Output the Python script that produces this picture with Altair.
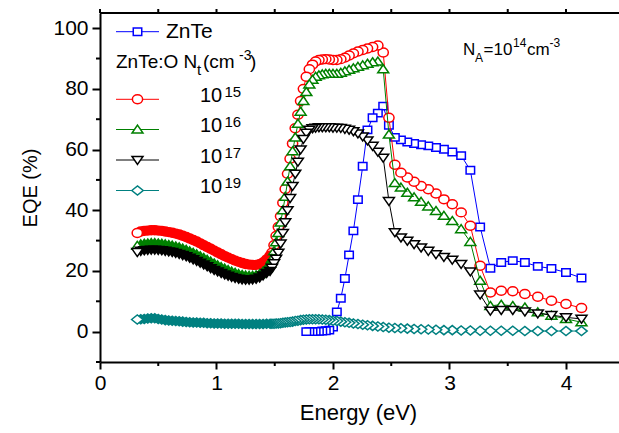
import altair as alt
import pandas as pd

# ---------------- data ----------------
# dense low-energy part (eV)
E_band = [0.32, 0.35, 0.38, 0.41, 0.44, 0.47, 0.50, 0.53, 0.56, 0.59, 0.62, 0.65, 0.68,
          0.71, 0.74, 0.77, 0.80, 0.83, 0.86, 0.89, 0.92, 0.95, 0.98, 1.01, 1.04, 1.07,
          1.10, 1.13, 1.16, 1.19, 1.22, 1.25, 1.28, 1.31, 1.34, 1.37, 1.40, 1.43, 1.46]
# 10 nm wavelength steps (840 nm ... 300 nm) in eV
E_grid = [1.476, 1.494, 1.512, 1.531, 1.550, 1.570, 1.590, 1.610, 1.632, 1.653, 1.676,
          1.699, 1.722, 1.746, 1.771, 1.797, 1.824, 1.851, 1.879, 1.908, 1.938, 1.968,
          2.000, 2.033, 2.067, 2.102, 2.138, 2.175, 2.214, 2.255, 2.296, 2.340, 2.385,
          2.431, 2.480, 2.531, 2.583, 2.638, 2.696, 2.756, 2.818, 2.884, 2.952, 3.024,
          3.100, 3.179, 3.263, 3.351, 3.444, 3.543, 3.647, 3.758, 3.875, 4.000, 4.133]

red_band = [32.5, 33.0, 33.2, 33.3, 33.4, 33.4, 33.3, 33.2, 33.0, 32.8, 32.6, 32.3, 32.0,
            31.6, 31.2, 30.7, 30.2, 29.7, 29.1, 28.5, 27.9, 27.3, 26.7, 26.1, 25.5, 24.9,
            24.4, 23.9, 23.4, 23.0, 22.6, 22.3, 22.1, 22.0, 22.0, 22.2, 22.8, 23.8, 25.0]
red_grid = [26.0, 28.5, 31.5, 34.5, 38.0, 42.5, 47.0, 52.0, 57.0, 62.0, 67.0, 71.5, 76.0,
            80.0, 84.0, 86.5, 88.0, 89.0, 89.5, 89.7, 89.8, 89.7, 89.5, 89.5, 89.8, 90.3,
            91.0, 91.7, 92.3, 92.8, 93.3, 93.8, 94.3, 92.0, 70.5, 55.0, 52.4, 50.8, 49.4,
            48.0, 46.9, 45.5, 43.6, 42.0, 39.3, 34.9, 21.7, 12.9, 13.5, 13.3, 12.4, 11.5,
            10.2, 9.1, 7.8]

green_band = [28.3, 28.8, 29.0, 29.1, 29.2, 29.2, 29.1, 29.0, 28.8, 28.6, 28.4, 28.1, 27.8,
              27.4, 27.0, 26.5, 26.0, 25.5, 24.9, 24.3, 23.7, 23.1, 22.5, 21.9, 21.3, 20.8,
              20.3, 19.8, 19.4, 19.0, 18.7, 18.5, 18.4, 18.4, 18.6, 19.0, 19.8, 21.0, 22.5]
green_grid = [24.0, 26.5, 29.5, 32.5, 36.0, 40.0, 44.5, 49.5, 54.5, 59.5, 64.0, 68.5, 72.5,
              76.0, 79.0, 81.5, 83.0, 84.0, 84.5, 84.8, 85.0, 85.0, 85.0, 85.0, 85.3, 85.8,
              86.3, 86.8, 87.3, 87.8, 88.3, 88.8, 89.0, 86.5, 65.0, 49.0, 47.5, 45.8, 44.3,
              42.8, 41.3, 39.8, 38.2, 36.5, 33.8, 29.6, 16.8, 8.5, 8.9, 8.5, 8.0, 6.4,
              5.3, 4.2, 3.1]

black_band = [26.2, 26.6, 26.8, 26.9, 27.0, 27.0, 26.9, 26.8, 26.6, 26.4, 26.2, 25.9, 25.6,
              25.2, 24.8, 24.3, 23.8, 23.3, 22.7, 22.1, 21.5, 20.9, 20.3, 19.8, 19.3, 18.8,
              18.4, 18.0, 17.7, 17.4, 17.2, 17.1, 17.1, 17.2, 17.4, 17.8, 18.5, 19.3, 20.0]
black_grid = [21.0, 22.5, 24.0, 26.0, 29.0, 32.5, 36.0, 40.0, 44.0, 48.0, 52.0, 56.0, 60.0,
              63.5, 65.5, 66.5, 67.0, 67.2, 67.3, 67.3, 67.3, 67.3, 67.2, 67.2, 67.1, 66.8,
              66.5, 66.0, 65.3, 64.3, 63.0, 61.2, 59.3, 57.3, 43.0, 32.7, 31.0, 29.9, 28.8,
              27.7, 26.6, 25.5, 24.6, 23.7, 22.3, 19.8, 12.2, 6.9, 7.1, 7.1, 6.6, 6.0,
              5.5, 4.7, 4.2]

teal_band = [4.0, 4.1, 4.2, 4.3, 4.4, 4.4, 4.2, 4.0, 3.8, 3.7, 3.6, 3.5, 3.4,
             3.3, 3.2, 3.1, 3.0, 3.0, 2.9, 2.9, 2.8, 2.8, 2.7, 2.7, 2.7, 2.6,
             2.6, 2.6, 2.6, 2.6, 2.5, 2.5, 2.5, 2.5, 2.5, 2.5, 2.5, 2.6, 2.6]
teal_grid = [2.6, 2.6, 2.7, 2.7, 2.8, 2.9, 3.0, 3.1, 3.2, 3.3, 3.5, 3.6, 3.8,
             3.9, 4.0, 4.1, 4.1, 4.1, 4.1, 4.0, 3.9, 3.8, 3.6, 3.5, 3.3, 3.1,
             2.9, 2.7, 2.5, 2.3, 2.1, 1.9, 1.7, 1.5, 1.3, 1.2, 1.1, 1.0, 0.9,
             0.8, 0.7, 0.6, 0.5, 0.5, 0.4, 0.4, 0.3, 0.3, 0.3, 0.3, 0.2, 0.2,
             0.2, 0.2, 0.2]

E_blue = [1.771, 1.797, 1.824, 1.851, 1.879, 1.908, 1.938, 1.968, 2.000, 2.033, 2.067,
          2.102, 2.138, 2.175, 2.214, 2.255, 2.296, 2.340, 2.385, 2.431, 2.480, 2.531,
          2.583, 2.638, 2.696, 2.756, 2.818, 2.884, 2.952, 3.024, 3.100, 3.179, 3.263,
          3.351, 3.444, 3.543, 3.647, 3.758, 3.875, 4.000, 4.133]
blue_vals = [0.0, 0.0, 0.0, 0.1, 0.1, 0.2, 0.3, 0.5, 1.5, 6.5, 11.0,
             17.5, 25.3, 33.2, 43.5, 54.5, 66.5, 70.5, 72.0, 74.3, 68.0, 64.0,
             63.2, 62.5, 62.0, 61.6, 61.2, 60.7, 60.1, 59.2, 58.0, 53.2, 34.5,
             20.9, 22.8, 23.4, 22.8, 21.5, 20.8, 19.5, 17.7]

legend_labels = ["ZnTe", "ZnTe:O", "15", "16", "17", "19"]
x_major = [0, 1, 2, 3, 4]
x_minor = [0.5, 1.5, 2.5, 3.5]
y_major = [0, 20, 40, 60, 80, 100]
y_minor = [-10, 10, 30, 50, 70, 90]

# ---------------- styling ----------------
W, H = 519, 349
FONT = "Liberation Sans"
BLUE, RED, GREEN, BLACK, TEAL = "#0000ff", "#ff0000", "#008000", "#000000", "#008080"
SH_CIRCLE = "M-1,0A1,0.87 0 1,1 1,0A1,0.87 0 1,1 -1,0Z"
SH_SQUARE = "M-1,-0.87L1,-0.87L1,0.87L-1,0.87Z"
SH_UP = "M0,-0.8L1,0.65L-1,0.65Z"
SH_DOWN = "M0,0.8L1,-0.65L-1,-0.65Z"
SH_DIAM = "M-1,0L0,-0.8L1,0L0,0.8Z"

xscale = alt.Scale(domain=[0, 4.455], nice=False, zero=False)
yscale = alt.Scale(domain=[-10, 105], nice=False, zero=False)

xaxis = alt.Axis(values=x_major, format="d", tickSize=7, tickWidth=2, tickColor=BLACK,
                 domainWidth=2, domainColor=BLACK, labelFont=FONT, labelFontSize=21,
                 labelColor=BLACK, labelPadding=3, labelFlush=False, grid=False,
                 title="Energy (eV)", titleFont=FONT, titleFontSize=22,
                 titleFontWeight="normal", titleColor=BLACK, titleX=258, titleY=50,
                 titleBaseline="middle", titleAlign="center")
yaxis = alt.Axis(values=y_major, format="d", tickSize=8, tickWidth=2, tickColor=BLACK,
                 domainWidth=2, domainColor=BLACK, labelFont=FONT, labelFontSize=21,
                 labelColor=BLACK, labelPadding=4, grid=False,
                 title="EQE (%)", titleFont=FONT, titleFontSize=20,
                 titleFontWeight="normal", titleColor=BLACK, titleX=-70, titleY=H / 2,
                 titleAngle=270, titleBaseline="middle", titleAlign="center")

X = lambda f="E:Q": alt.X(f, scale=xscale, axis=xaxis)
Y = lambda f="v:Q": alt.Y(f, scale=yscale, axis=yaxis)


def pts(df, color, shape, size, fill):
    return alt.Chart(df).mark_point(shape=shape, size=size, filled=True, fill=fill,
                                    stroke=color, strokeWidth=1.5, opacity=1).encode(
        x=X(), y=Y(), order=alt.Order("o:Q"))


def frame(E, v):
    df = pd.DataFrame({"E": E, "v": v})
    df["o"] = -df["E"]
    return df


layers = []
# ZnTe
dfb = frame(E_blue, blue_vals)
layers.append(alt.Chart(dfb).mark_line(color=BLUE, strokeWidth=1).encode(x=X(), y=Y()))
layers.append(pts(dfb, BLUE, SH_SQUARE, 72, "white"))

for band, grid, col, shp, sz in [
    (red_band, red_grid, RED, SH_CIRCLE, 105),
    (green_band, green_grid, GREEN, SH_UP, 120),
    (black_band, black_grid, BLACK, SH_DOWN, 120),
    (teal_band, teal_grid, TEAL, SH_DIAM, 130),
]:
    dfall = frame(E_band + E_grid, band + grid)
    layers.append(alt.Chart(dfall).mark_line(color=col, strokeWidth=1).encode(x=X(), y=Y()))
    layers.append(pts(frame(E_grid, grid), col, shp, sz, "white"))
    layers.append(pts(frame(E_band[1:], band[1:]), col, shp, sz, col))
    layers.append(pts(frame(E_band[:1], band[:1]), col, shp, sz, "white"))

# minor ticks, top frame with ticks
one = pd.DataFrame({"k": [0]})
dxm = pd.DataFrame({"E": x_minor})
dxa = pd.DataFrame({"E": x_major + x_minor})
dym = pd.DataFrame({"v": y_minor})
layers.append(alt.Chart(dxm).mark_rule(color=BLACK, strokeWidth=2).encode(
    x=X(), y=alt.value(H), y2=alt.value(H + 4)))
layers.append(alt.Chart(dym).mark_rule(color=BLACK, strokeWidth=2).encode(
    y=Y(), x=alt.value(0), x2=alt.value(-4)))
layers.append(alt.Chart(one).mark_rule(color=BLACK, strokeWidth=2).encode(
    x=alt.value(0), x2=alt.value(W), y=alt.value(0)))
layers.append(alt.Chart(dxa).mark_rule(color=BLACK, strokeWidth=2).encode(
    x=X(), y=alt.value(0), y2=alt.value(-4)))


def txt(s, x, y, size):
    return alt.Chart(one).mark_text(text=s, font=FONT, fontSize=size, align="left",
                                    baseline="alphabetic", color=BLACK).encode(
        x=alt.value(x), y=alt.value(y))


def legline(col, shp, sz, y):
    return [
        alt.Chart(one).mark_rule(color=col, strokeWidth=1).encode(
            x=alt.value(16), x2=alt.value(59), y=alt.value(y)),
        alt.Chart(one).mark_point(shape=shp, size=sz, filled=True, fill="white",
                                  stroke=col, strokeWidth=1.5, opacity=1).encode(
            x=alt.value(37.5), y=alt.value(y)),
    ]


layers += legline(BLUE, SH_SQUARE, 72, 18.7)
layers.append(txt(legend_labels[0], 66, 24.5, 21))
layers.append(txt(legend_labels[1] + " N", 16, 55, 19))
layers.append(txt("t", 97, 62, 15))
layers.append(txt("(cm", 103, 55, 19))
layers.append(txt("-3", 139, 47, 14))
layers.append(txt(")", 150, 55, 19))
for (col, shp, sz), yy, sup in zip(
        [(RED, SH_CIRCLE, 105), (GREEN, SH_UP, 120), (BLACK, SH_DOWN, 120), (TEAL, SH_DIAM, 130)],
        [86.3, 116.5, 147, 177.5], legend_labels[2:]):
    layers += legline(col, shp, sz, yy)
    layers.append(txt("10", 100, yy + 2.5, 20))
    layers.append(txt(sup, 124.5, yy - 2.5, 15))

# N_A annotation
layers.append(txt("N", 363, 42, 17))
layers.append(txt("A", 375, 48.5, 12))
layers.append(txt("=10", 383.5, 42, 17))
layers.append(txt("14", 413, 34, 12))
layers.append(txt("cm", 427, 42, 17))
layers.append(txt("-3", 449.5, 34, 12))

chart = alt.layer(*layers).properties(
    width=W, height=H,
    padding={"left": 100, "top": 13, "right": 0, "bottom": 433 - 13 - H},
    autosize=alt.AutoSizeParams(type="none"),
    background="white",
).configure_view(stroke=None)

chart.save("out.html", embed_options={"renderer": "svg", "actions": False})
